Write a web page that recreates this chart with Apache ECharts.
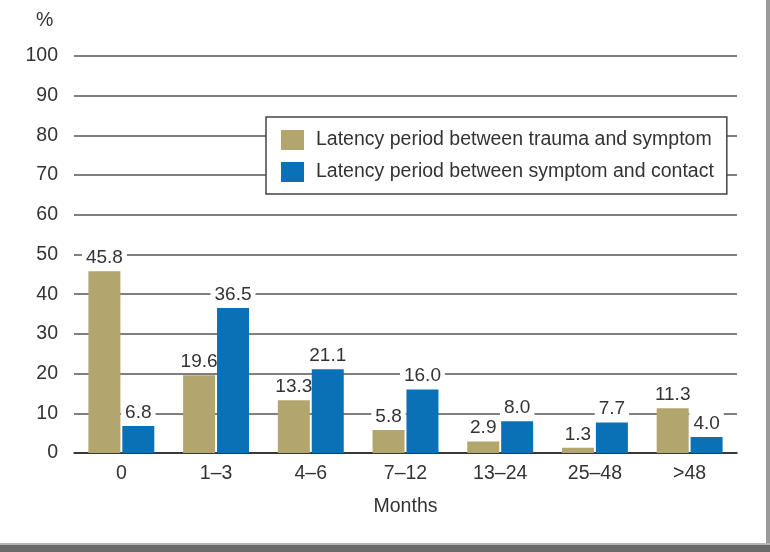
<!DOCTYPE html>
<html>
<head>
<meta charset="utf-8">
<script src="https://cdn.jsdelivr.net/npm/echarts@6/dist/echarts.min.js"></script>
<style>html,body{margin:0;padding:0;background:#fff}#c{width:770px;height:552px}</style>
</head>
<body>
<div id="c"></div>
<script>
const categories = ['0', '1\u20133', '4\u20136', '7\u201312', '13\u201324', '25\u201348', '>48'];
const seriesNames = ['Latency period between trauma and symptom', 'Latency period between symptom and contact'];
const traumaToSymptom = [45.8, 19.6, 13.3, 5.8, 2.9, 1.3, 11.3];
const symptomToContact = [6.8, 36.5, 21.1, 16.0, 8.0, 7.7, 4.0];
const yTicks = [0, 10, 20, 30, 40, 50, 60, 70, 80, 90, 100];

const chart = echarts.init(document.getElementById('c'), null, {renderer: 'canvas'});
const font = 'Liberation Sans, Arial, sans-serif';
const fs = 19.5;
const labelCfg = {
  show: true, position: 'top', distance: 3,
  formatter: p => p.value.toFixed(1),
  fontFamily: font, fontSize: 19, color: '#333',
  backgroundColor: '#fff', padding: [1, 4]
};
chart.setOption({
  animation: false,
  backgroundColor: '#fff',
  textStyle: {fontFamily: font},
  grid: {left: 74, right: 33, top: 56, bottom: 99, containLabel: false},
  legend: {
    orient: 'vertical', left: 266, top: 117,
    padding: [13, 13, 12, 15],
    icon: 'rect',
    itemWidth: 23, itemHeight: 20, itemGap: 12,
    borderColor: '#444', borderWidth: 1.5, backgroundColor: '#fff',
    textStyle: {fontFamily: font, fontSize: fs, color: '#333', padding: [0, 0, 0, 7]},
    data: seriesNames
  },
  xAxis: {
    type: 'category', data: categories,
    axisLine: {lineStyle: {color: '#222', width: 1.5}},
    axisTick: {show: false},
    axisLabel: {fontFamily: font, fontSize: fs, color: '#333', margin: 11},
    name: 'Months', nameLocation: 'middle', nameGap: 44,
    nameTextStyle: {fontFamily: font, fontSize: fs, color: '#333'}
  },
  yAxis: {
    type: 'value', min: yTicks[0], max: yTicks[yTicks.length - 1], interval: 10,
    axisLine: {show: false}, axisTick: {show: false},
    axisLabel: {fontFamily: font, fontSize: fs, color: '#333', margin: 16},
    splitLine: {lineStyle: {color: '#555', width: 1.5}}
  },
  graphic: [
    {type: 'text', left: 36, top: 11, style: {text: '%', font: fs + 'px ' + font, fill: '#333'}},
    {type: 'rect', shape: {x: 766, y: 0, width: 4, height: 544}, style: {fill: '#9a9a9a'}},
    {type: 'rect', shape: {x: 0, y: 543, width: 770, height: 2}, style: {fill: '#b5b5b5'}},
    {type: 'rect', shape: {x: 0, y: 545, width: 770, height: 7}, style: {fill: '#6a6a6a'}}
  ],
  series: [
    {name: seriesNames[0], type: 'bar', data: traumaToSymptom, barWidth: 32, barGap: '6%',
     itemStyle: {color: '#b3a56e'}, label: labelCfg, z: 3},
    {name: seriesNames[1], type: 'bar', data: symptomToContact, barWidth: 32, barGap: '6%',
     itemStyle: {color: '#0a71b7'}, label: labelCfg, z: 4}
  ]
});
</script>
</body>
</html>
